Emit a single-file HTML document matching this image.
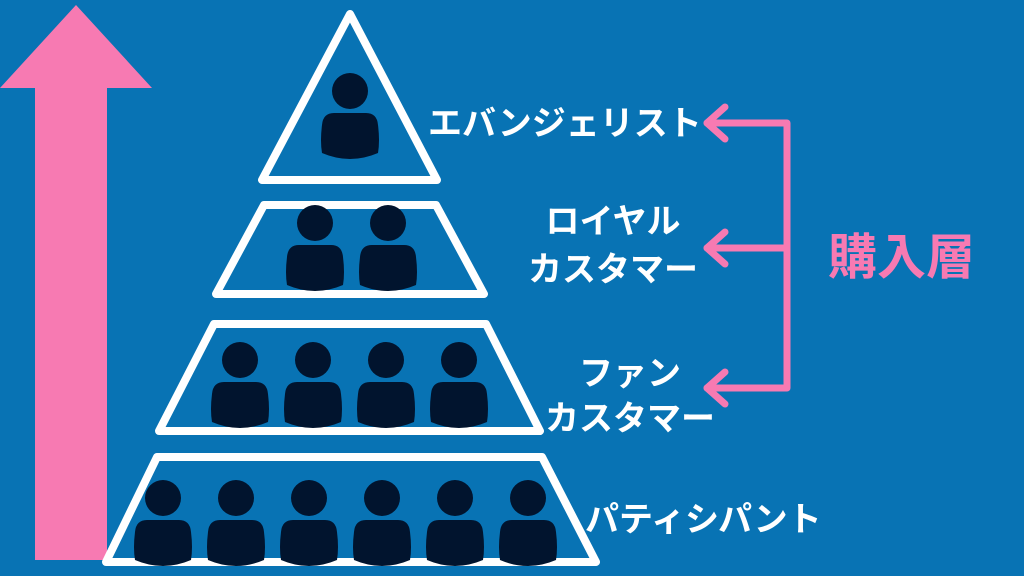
<!DOCTYPE html>
<html><head><meta charset="utf-8"><style>
html,body{margin:0;padding:0;background:#0873B4;}
svg{display:block}
text{font-family:"Liberation Sans","Noto Sans CJK JP",sans-serif;font-weight:bold;}
</style></head><body>
<svg width="1024" height="576" viewBox="0 0 1024 576">
<rect width="1024" height="576" fill="#0873B4"/>
<defs>
<g id="p">
<circle cx="0" cy="-22" r="18" fill="#01142E"/>
<path d="M-16,0 Q-27,0 -28,12 Q-30,28 -28,40 Q0,52 28,40 Q30,28 28,12 Q27,0 16,0 Z" fill="#01142E"/>
</g>
</defs>
<polygon points="76,5 152,88 107,88 107,560 35,560 35,88 0,88" fill="#F77AB2"/>
<g fill="none" stroke="#fff" stroke-width="8" stroke-linejoin="round">
<polygon points="350,14 262,180 437,180"/>
<polygon points="264,205 436,205 484,294 216,294"/>
<polygon points="214,324 486,324 540,431 159,431"/>
<polygon points="157,457 542,457 596,562 106,562"/>
</g>
<use href="#p" x="350" y="113"/>
<use href="#p" x="315" y="245"/><use href="#p" x="388" y="245"/>
<use href="#p" x="240" y="382"/><use href="#p" x="313" y="382"/><use href="#p" x="386" y="382"/><use href="#p" x="459" y="382"/>
<use href="#p" x="163" y="520"/><use href="#p" x="236" y="520"/><use href="#p" x="309" y="520"/><use href="#p" x="382" y="520"/><use href="#p" x="455" y="520"/><use href="#p" x="528" y="520"/>
<g fill="#fff" font-size="34">
<text x="428" y="135">エバンジェリスト</text>
<text x="613" y="233" text-anchor="middle">ロイヤル</text>
<text x="613" y="281" text-anchor="middle">カスタマー</text>
<text x="630" y="385" text-anchor="middle">ファン</text>
<text x="630" y="430" text-anchor="middle">カスタマー</text>
<text x="585" y="531">パティシパント</text>
</g>
<g fill="none" stroke="#F77AB2" stroke-width="7" stroke-linecap="round" stroke-linejoin="round">
<polyline points="707,123 787,123 787,388 707,388"/>
<line x1="707" y1="248" x2="787" y2="248"/>
<polyline points="725,107 707,123 725,139"/>
<polyline points="725,232 707,248 725,264"/>
<polyline points="725,372 707,388 725,404"/>
</g>
<text x="828" y="274" fill="#F77AB2" font-size="49">購入層</text>
</svg>
</body></html>
